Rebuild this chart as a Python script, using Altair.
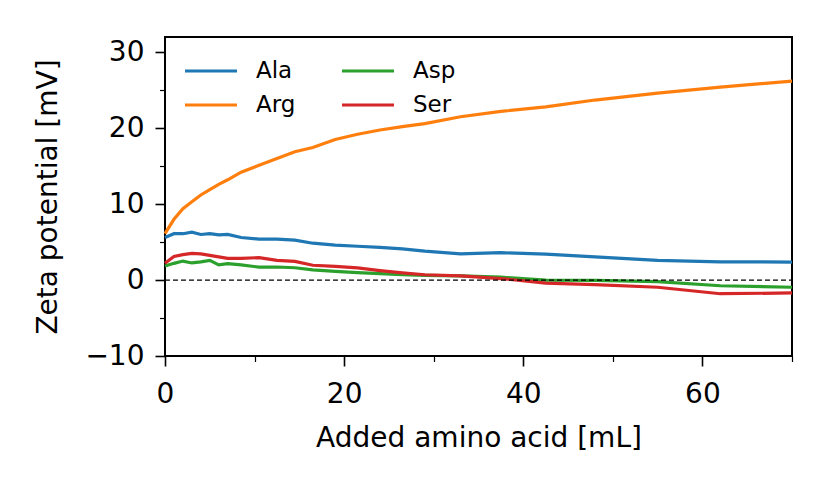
import altair as alt
import pandas as pd

# Added amino acid volume [mL]
added_ml = [0, 1, 2, 3, 4, 5, 6, 7, 8.5, 10.5, 12.5, 14.5, 16.5, 19, 21.5, 24,
            26.5, 29, 33, 37.5, 42.5, 48, 55, 62, 70]
# Zeta potential [mV]
ala = [5.6, 6.1, 6.1, 6.3, 6.0, 6.1, 5.95, 6.0, 5.6, 5.4, 5.4, 5.25, 4.85, 4.6,
       4.45, 4.3, 4.1, 3.8, 3.45, 3.6, 3.4, 3.05, 2.6, 2.4, 2.37]
arg = [6.1, 8.0, 9.4, 10.3, 11.2, 11.9, 12.6, 13.2, 14.2, 15.1, 16.0, 16.9, 17.45,
       18.5, 19.2, 19.75, 20.2, 20.6, 21.5, 22.2, 22.8, 23.7, 24.6, 25.4, 26.2]
asp = [1.84, 2.2, 2.5, 2.25, 2.4, 2.6, 2.0, 2.15, 2.0, 1.7, 1.72, 1.62, 1.35, 1.15,
       0.98, 0.85, 0.72, 0.62, 0.55, 0.38, 0.0, -0.05, -0.2, -0.75, -0.95]
ser = [2.2, 3.1, 3.35, 3.5, 3.45, 3.25, 3.05, 2.85, 2.85, 2.95, 2.6, 2.45, 1.95,
       1.8, 1.6, 1.25, 0.95, 0.7, 0.55, 0.2, -0.4, -0.6, -0.95, -1.8, -1.7]

series_names = ["Ala", "Arg", "Asp", "Ser"]
series_colors = ["#1f77b4", "#ff7f0e", "#2ca02c", "#d62728"]
series_values = {"Ala": ala, "Arg": arg, "Asp": asp, "Ser": ser}

x_major = [0, 20, 40, 60]
x_minor = [10, 30, 50, 70]
y_major = [-10, 0, 10, 20, 30]
y_minor = [-5, 5, 15, 25]
x_range = [0, 70]
y_range = [-10, 32]
zero_level = [0]

rows = []
for i, name in enumerate(series_names):
    for xv, yv in zip(added_ml, series_values[name]):
        rows.append({"added": xv, "zeta": yv, "acid": name, "order": i})
df = pd.DataFrame(rows)

FONT = "DejaVu Sans"

xscale = alt.Scale(domain=x_range, nice=False, zero=False)
yscale = alt.Scale(domain=y_range, nice=False, zero=False)

major_x_axis = alt.Axis(values=x_major, title="Added amino acid [mL]", orient="bottom",
                        grid=False, domain=False, tickSize=10, tickWidth=1.6,
                        tickColor="black", labelFontSize=28, labelFont=FONT,
                        labelColor="black", labelPadding=14, labelFlush=False,
                        titleFontSize=28,
                        titleFont=FONT, titleFontWeight="normal", titleColor="black",
                        titleX=313.5, titleY=82, titleBaseline="middle")
major_y_axis = alt.Axis(values=y_major, title="Zeta potential [mV]", orient="left",
                        grid=False, domain=False, tickSize=10, tickWidth=1.6,
                        tickColor="black", labelFontSize=28, labelFont=FONT,
                        labelColor="black", labelPadding=11, labelFlush=False,
                        titleFontSize=28,
                        titleFont=FONT, titleFontWeight="normal", titleColor="black",
                        titleX=-117, titleY=159.5, titleBaseline="middle")
minor_x_axis = alt.Axis(values=x_minor, title=None, orient="bottom", grid=False,
                        domain=False, labels=False, tickSize=5.5, tickWidth=1.2,
                        tickColor="black")
minor_y_axis = alt.Axis(values=y_minor, title=None, orient="left", grid=False,
                        domain=False, labels=False, tickSize=5.5, tickWidth=1.2,
                        tickColor="black")

lines = alt.Chart(df).mark_line(strokeWidth=3.2).encode(
    x=alt.X("added:Q", scale=xscale, axis=major_x_axis),
    y=alt.Y("zeta:Q", scale=yscale, axis=major_y_axis),
    color=alt.Color("acid:N",
                    scale=alt.Scale(domain=series_names, range=series_colors),
                    legend=alt.Legend(title=None, orient="none", legendX=24, legendY=12,
                                      columns=2, symbolType="M-1.3,0H1.3",
                                      symbolSize=1600,
                                      symbolStrokeWidth=3.2, labelFontSize=23,
                                      labelFont=FONT, labelColor="black",
                                      labelOffset=23, columnPadding=39,
                                      rowPadding=0)),
    order="order:Q",
)

zero_df = pd.DataFrame({"lo": [x_range[0]], "hi": [x_range[1]], "level": zero_level})
zero_rule = alt.Chart(zero_df).mark_rule(color="black", strokeWidth=1.2,
                                         strokeDash=[5, 3]).encode(
    x=alt.X("lo:Q", scale=xscale, axis=minor_x_axis),
    x2="hi:Q",
    y=alt.Y("level:Q", scale=yscale, axis=minor_y_axis),
)

chart = alt.layer(lines, zero_rule).resolve_axis(
    x="independent", y="independent"
).properties(
    width=627, height=319,
    background="white",
    autosize=alt.AutoSizeParams(type="none"),
    padding={"left": 157, "top": 29, "right": 30, "bottom": 100},
).configure_view(stroke="black", strokeWidth=2)

chart.save("out.html", embed_options={"renderer": "svg", "actions": False})
